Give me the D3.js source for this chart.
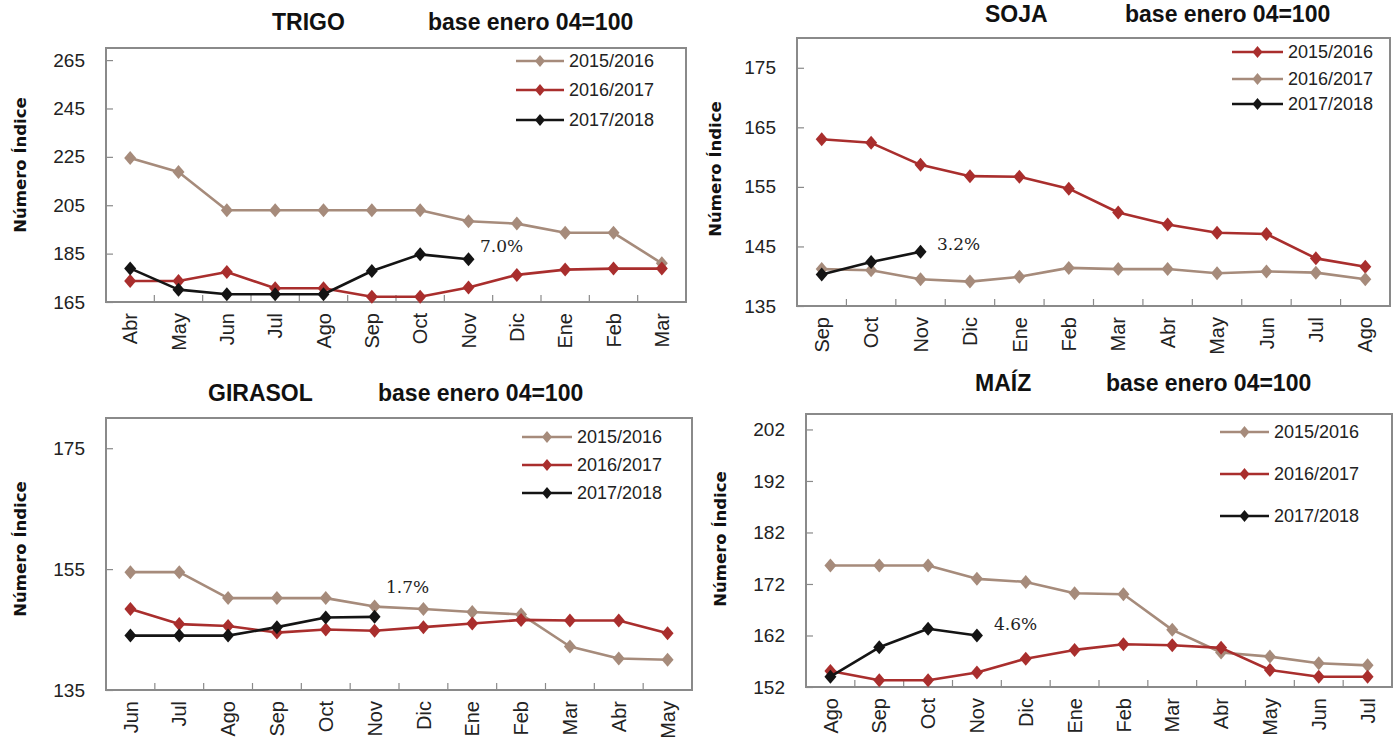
<!DOCTYPE html>
<html>
<head>
<meta charset="utf-8">
<script src="https://cdn.jsdelivr.net/npm/d3@7"></script>
<style>
  html, body { margin: 0; padding: 0; background: #fff; }
  svg { display: block; }
</style>
</head>
<body>
<svg id="chart" width="1398" height="739"></svg>
<script>
// ---------- DATA ----------
const seriesNames = ["2015/2016", "2016/2017", "2017/2018"];

const trigoMonths = ["Abr","May","Jun","Jul","Ago","Sep","Oct","Nov","Dic","Ene","Feb","Mar"];
const trigo1516 = [224.5, 218.7, 202.9, 202.9, 202.9, 202.9, 202.9, 198.4, 197.4, 193.6, 193.6, 181.0];
const trigo1617 = [173.7, 173.7, 177.4, 170.7, 170.7, 167.2, 167.2, 171.0, 176.2, 178.4, 178.8, 178.8];
const trigo1718 = [178.9, 170.1, 168.2, 168.2, 168.2, 177.8, 184.7, 182.7, null, null, null, null];
const trigoTicks = [165, 185, 205, 225, 245, 265];

const sojaMonths = ["Sep","Oct","Nov","Dic","Ene","Feb","Mar","Abr","May","Jun","Jul","Ago"];
const soja1516 = [163.0, 162.4, 158.7, 156.8, 156.7, 154.7, 150.7, 148.7, 147.3, 147.1, 143.0, 141.6];
const soja1617 = [141.2, 141.0, 139.5, 139.1, 139.9, 141.4, 141.2, 141.2, 140.5, 140.8, 140.6, 139.5];
const soja1718 = [140.3, 142.4, 144.1, null, null, null, null, null, null, null, null, null];
const sojaTicks = [135, 145, 155, 165, 175];

const girasolMonths = ["Jun","Jul","Ago","Sep","Oct","Nov","Dic","Ene","Feb","Mar","Abr","May"];
const girasol1516 = [154.5, 154.5, 150.2, 150.2, 150.2, 148.8, 148.4, 147.9, 147.5, 142.2, 140.2, 140.0];
const girasol1617 = [148.4, 145.9, 145.6, 144.5, 145.0, 144.8, 145.4, 146.0, 146.6, 146.5, 146.5, 144.4];
const girasol1718 = [144.0, 144.0, 144.0, 145.4, 147.0, 147.1, null, null, null, null, null, null];
const girasolTicks = [135, 155, 175];

const maizMonths = ["Ago","Sep","Oct","Nov","Dic","Ene","Feb","Mar","Abr","May","Jun","Jul"];
const maiz1516 = [175.6, 175.6, 175.6, 173.0, 172.4, 170.2, 170.0, 163.1, 158.7, 157.9, 156.6, 156.2];
const maiz1617 = [155.1, 153.3, 153.3, 154.8, 157.5, 159.2, 160.3, 160.1, 159.6, 155.3, 154.0, 154.0];
const maiz1718 = [154.0, 159.7, 163.3, 162.0, null, null, null, null, null, null, null, null];
const maizTicks = [152, 162, 172, 182, 192, 202];

const pctLabels = ["7.0%", "3.2%", "1.7%", "4.6%"];
const productTitles = ["TRIGO", "SOJA", "GIRASOL", "MAÍZ"];
const baseTitle = "base enero 04=100";
const yTitle = "Número Índice";

// ---------- STYLE ----------
const TAN = "#a68b7b", RED = "#a92e2d", BLACK = "#141414";

const svg = d3.select("#chart");

function drawPanel(o) {
  const g = svg.append("g");
  const x = d3.scalePoint().domain(o.cats).range([o.x0, o.x1]).padding(0.5);
  const y = d3.scaleLinear().domain(o.domain).range([o.y1, o.y0]);
  const step = x.step();

  // plot frame
  g.append("rect").attr("x", o.x0).attr("y", o.y0)
    .attr("width", o.x1 - o.x0).attr("height", o.y1 - o.y0)
    .attr("fill", "#fff").attr("stroke", "#8a8a8a").attr("stroke-width", 2);

  // y axis (ticks inward)
  const yAxis = d3.axisLeft(y).tickValues(o.ticks).tickSize(-7).tickPadding(21).tickSizeOuter(0);
  const ya = g.append("g").attr("transform", `translate(${o.x0},0)`).call(yAxis);
  ya.select(".domain").remove();
  ya.selectAll(".tick line").attr("stroke", "#8a8a8a").attr("stroke-width", 1.2);
  ya.selectAll(".tick text").attr("font-family", "'Liberation Sans Narrow', 'Arial Narrow', sans-serif")
    .attr("font-size", 19).attr("fill", "#222");

  // x axis: ticks at category boundaries, inward
  const bounds = o.cats.slice(1).map(c => x(c) - step / 2);
  g.selectAll(".xt").data(bounds).enter().append("line")
    .attr("x1", d => d).attr("x2", d => d)
    .attr("y1", o.y1).attr("y2", o.y1 - 7)
    .attr("stroke", "#8a8a8a").attr("stroke-width", 1.2);
  g.selectAll(".xl").data(o.cats).enter().append("text")
    .attr("transform", d => `translate(${x(d)},${o.y1 + 11}) rotate(-90)`)
    .attr("text-anchor", "end").attr("dy", "0.36em")
    .attr("font-family", "'Liberation Sans', Arial, sans-serif")
    .attr("font-size", 20).attr("fill", "#222")
    .text(d => d);

  // series
  const line = d3.line().defined(d => d != null)
    .x((d, i) => x(o.cats[i])).y(d => y(d));
  o.series.forEach(s => {
    g.append("path").datum(s.values)
      .attr("d", line).attr("fill", "none")
      .attr("stroke", s.color).attr("stroke-width", 2.6)
      .attr("stroke-linejoin", "round");
    g.selectAll(null).data(s.values.map((v, i) => ({v, i})).filter(d => d.v != null))
      .enter().append("path")
      .attr("d", "M0,-7L6,0L0,7L-6,0Z")
      .attr("transform", d => `translate(${x(o.cats[d.i])},${y(d.v)})`)
      .attr("fill", s.color);
  });

  // legend
  o.series.forEach((s, k) => {
    const ly = o.legend.y[k];
    g.append("line").attr("x1", o.legend.x).attr("x2", o.legend.x + o.legend.len)
      .attr("y1", ly).attr("y2", ly).attr("stroke", s.color).attr("stroke-width", 2.6);
    g.append("path").attr("d", "M0,-6L5,0L0,6L-5,0Z")
      .attr("transform", `translate(${o.legend.x + o.legend.len / 2},${ly})`)
      .attr("fill", s.color);
    g.append("text").attr("x", o.legend.x + o.legend.len + 5).attr("y", ly)
      .attr("dy", "0.35em")
      .attr("font-family", "'Liberation Sans', Arial, sans-serif")
      .attr("font-size", 18).attr("fill", "#222")
      .text(s.name);
  });

  // titles
  g.append("text").attr("x", o.title.x1).attr("y", o.title.y)
    .attr("font-family", "'Liberation Sans', Arial, sans-serif")
    .attr("font-weight", "bold").attr("font-size", 23).attr("fill", "#111")
    .text(o.title.name);
  g.append("text").attr("x", o.title.x2).attr("y", o.title.y)
    .attr("font-family", "'Liberation Sans', Arial, sans-serif")
    .attr("font-weight", "bold").attr("font-size", 23).attr("fill", "#111")
    .text(baseTitle);

  // y title
  g.append("text")
    .attr("transform", `translate(${o.ytitle.x},${o.ytitle.y}) rotate(-90)`)
    .attr("text-anchor", "middle").attr("dy", "0.35em")
    .attr("font-family", "'DejaVu Sans', Verdana, sans-serif")
    .attr("font-weight", "bold").attr("font-size", 16.5).attr("fill", "#111")
    .text(yTitle);

  // percentage label
  g.append("text").attr("x", o.pct.x).attr("y", o.pct.y).attr("dy", "0.35em")
    .attr("font-family", "'DejaVu Serif', 'Liberation Serif', serif")
    .attr("font-size", 17).attr("fill", "#222")
    .text(o.pct.text);
}

drawPanel({
  x0: 106, x1: 686, y0: 48, y1: 302, domain: [165, 270], ticks: trigoTicks, cats: trigoMonths,
  series: [
    {name: seriesNames[0], values: trigo1516, color: TAN},
    {name: seriesNames[1], values: trigo1617, color: RED},
    {name: seriesNames[2], values: trigo1718, color: BLACK}],
  legend: {x: 516, len: 48, y: [61, 90, 120]},
  title: {name: productTitles[0], x1: 272, x2: 428, y: 30},
  ytitle: {x: 20, y: 165},
  pct: {text: pctLabels[0], x: 480, y: 246}
});

drawPanel({
  x0: 797, x1: 1390, y0: 38, y1: 306, domain: [135, 180], ticks: sojaTicks, cats: sojaMonths,
  series: [
    {name: seriesNames[0], values: soja1516, color: RED},
    {name: seriesNames[1], values: soja1617, color: TAN},
    {name: seriesNames[2], values: soja1718, color: BLACK}],
  legend: {x: 1232, len: 51, y: [52, 79, 104]},
  title: {name: productTitles[1], x1: 985, x2: 1125, y: 22},
  ytitle: {x: 715, y: 169},
  pct: {text: pctLabels[1], x: 937, y: 244}
});

drawPanel({
  x0: 106, x1: 692, y0: 418, y1: 690, domain: [135, 180], ticks: girasolTicks, cats: girasolMonths,
  series: [
    {name: seriesNames[0], values: girasol1516, color: TAN},
    {name: seriesNames[1], values: girasol1617, color: RED},
    {name: seriesNames[2], values: girasol1718, color: BLACK}],
  legend: {x: 522, len: 50, y: [437, 465, 493]},
  title: {name: productTitles[2], x1: 208, x2: 378, y: 401},
  ytitle: {x: 20, y: 549},
  pct: {text: pctLabels[2], x: 386, y: 587}
});

drawPanel({
  x0: 806, x1: 1392, y0: 414, y1: 687, domain: [152, 205], ticks: maizTicks, cats: maizMonths,
  series: [
    {name: seriesNames[0], values: maiz1516, color: TAN},
    {name: seriesNames[1], values: maiz1617, color: RED},
    {name: seriesNames[2], values: maiz1718, color: BLACK}],
  legend: {x: 1220, len: 49, y: [432, 474, 516]},
  title: {name: productTitles[3], x1: 975, x2: 1106, y: 391},
  ytitle: {x: 720, y: 539},
  pct: {text: pctLabels[3], x: 994, y: 624}
});
</script>
</body>
</html>
